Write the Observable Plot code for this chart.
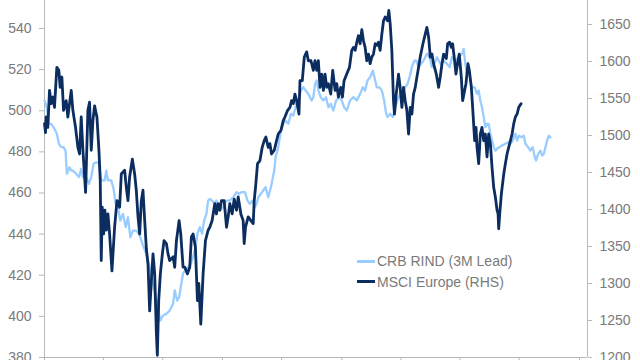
<!DOCTYPE html>
<html>
<head>
<meta charset="utf-8">
<script src="https://cdn.jsdelivr.net/npm/d3@7"></script>
<script src="https://cdn.jsdelivr.net/npm/@observablehq/plot@0.6"></script>
<style>
  html, body { margin: 0; padding: 0; background: #fff; overflow: hidden; }
  #wrap { position: relative; width: 640px; height: 360px; font-family: "Liberation Sans", Arial, sans-serif; }
  #legend { position: absolute; left: 357px; top: 251px; font-size: 14px; color: #7a7a7a; }
  #legend .row { display: flex; align-items: center; height: 20.5px; white-space: nowrap; }
  #legend .sw { width: 18px; height: 0; margin-right: 2px; }
</style>
</head>
<body>
<div id="wrap"></div>
<script>
// ---- data (x in tick units, values as read) ----
const seriesNames = ["CRB RIND (3M Lead)", "MSCI Europe (RHS)"];
const leftTicks = [380, 400, 420, 440, 460, 480, 500, 520, 540];
const rightTicks = [1200, 1250, 1300, 1350, 1400, 1450, 1500, 1550, 1600, 1650];
const xTicks = [0, 1, 2, 3.01, 4.01, 5.03, 6.03, 7.03, 8.03, 9.05];
const leftDomain = [380, 553.6];
const rightDomain = [1200, 1682.4];
const xDomain = [0, 9.186];

const crbSeries = [
  [0.000,505.0],[0.039,501.7],[0.073,493.6],[0.113,493.6],[0.169,491.2],[0.209,488.8],[0.243,483.9],[0.282,482.3],
  [0.322,482.3],[0.356,480.6],[0.378,469.3],[0.424,472.5],[0.452,470.9],[0.480,470.9],[0.537,469.3],[0.582,467.7],
  [0.621,471.7],[0.650,467.7],[0.706,467.7],[0.751,464.4],[0.791,467.7],[0.830,474.2],[0.876,475.0],[0.921,474.2],
  [0.960,466.1],[1.017,466.1],[1.045,470.9],[1.073,466.1],[1.130,466.1],[1.169,462.0],[1.203,454.7],[1.243,453.1],
  [1.282,446.6],[1.328,449.8],[1.373,443.4],[1.412,448.2],[1.452,438.5],[1.497,441.7],[1.553,441.7],[1.599,440.1],
  [1.638,436.9],[1.678,433.6],[1.723,430.4],[1.779,423.9],[1.836,415.8],[1.893,407.7],[1.938,401.2],[1.960,398.0],
  [2.006,400.4],[2.062,401.2],[2.118,402.8],[2.175,406.1],[2.203,412.6],[2.243,407.7],[2.277,409.3],
  [2.305,414.2],[2.344,420.7],[2.373,422.3],[2.429,423.9],[2.474,425.5],[2.514,428.8],[2.553,433.6],[2.587,440.1],
  [2.627,443.4],[2.666,440.1],[2.700,446.6],[2.740,449.8],[2.768,456.3],[2.796,457.1],[2.836,456.3],[2.881,454.7],
  [2.909,456.3],[2.966,451.5],[3.022,453.1],[3.079,456.3],[3.135,456.3],[3.192,457.9],[3.248,460.4],[3.288,459.6],
  [3.333,460.4],[3.390,460.4],[3.435,456.3],[3.474,454.7],[3.514,456.3],[3.559,453.1],[3.587,454.7],[3.616,457.9],
  [3.661,459.6],[3.700,461.2],[3.740,462.8],[3.785,457.9],[3.830,462.8],[3.853,466.1],[3.887,470.9],[3.909,477.4],
  [3.954,482.3],[4.000,490.4],[4.039,493.6],[4.079,495.2],[4.124,493.6],[4.169,498.5],[4.209,497.7],[4.248,501.7],
  [4.282,505.0],[4.305,506.6],[4.339,509.8],[4.378,511.4],[4.418,509.8],[4.463,508.2],[4.520,505.0],[4.548,506.6],
  [4.577,513.1],[4.605,514.7],[4.633,509.8],[4.673,506.6],[4.718,505.0],[4.763,506.6],[4.803,501.7],[4.842,503.3],
  [4.887,500.1],[4.933,505.0],[4.989,506.6],[5.029,505.0],[5.068,501.7],[5.113,500.1],[5.170,505.0],[5.226,506.6],
  [5.283,505.0],[5.339,508.2],[5.385,511.4],[5.424,509.8],[5.464,514.7],[5.509,516.3],[5.554,519.5],[5.594,514.7],
  [5.622,511.4],[5.667,511.4],[5.707,509.8],[5.746,505.0],[5.780,498.5],[5.803,496.9],[5.848,498.5],[5.893,496.9],
  [5.933,501.7],[5.972,505.0],[6.017,508.2],[6.063,509.8],[6.102,511.4],[6.142,513.1],[6.176,516.3],[6.215,521.2],
  [6.255,524.4],[6.289,524.4],[6.328,521.2],[6.368,522.8],[6.413,524.4],[6.469,527.7],[6.514,526.0],[6.554,521.2],
  [6.594,522.8],[6.639,526.0],[6.695,522.8],[6.752,524.4],[6.808,522.8],[6.854,521.2],
  [6.893,526.0],[6.949,524.4],[7.006,526.0],[7.062,527.7],[7.091,530.1],[7.119,522.8],[7.147,517.9],[7.175,521.2],
  [7.204,514.7],[7.232,511.4],[7.277,511.4],[7.317,508.2],[7.345,509.8],[7.373,505.0],[7.401,501.7],[7.430,496.9],
  [7.458,492.0],[7.486,493.6],[7.514,493.6],[7.543,488.8],[7.571,485.5],[7.599,482.3],[7.627,480.6],[7.656,481.5],
  [7.695,482.3],[7.740,483.1],[7.797,483.9],[7.842,484.7],[7.882,483.9],[7.921,485.5],[7.966,488.8],[7.995,485.5],
  [8.023,487.9],[8.068,487.1],[8.108,487.9],[8.136,483.9],[8.181,482.3],[8.220,480.6],[8.260,482.3],[8.294,477.4],
  [8.317,475.8],[8.351,479.0],[8.390,480.6],[8.418,478.2],[8.446,479.0],[8.475,482.3],[8.503,485.5],[8.531,487.9],
  [8.559,487.1]
];

const msciSeries = [
  [0.000,1516],[0.017,1504],[0.028,1525],[0.056,1511],[0.085,1561],[0.113,1543],[0.141,1552],[0.169,1538],
  [0.209,1592],[0.243,1588],[0.265,1565],[0.294,1579],[0.322,1534],[0.367,1547],[0.395,1525],[0.452,1561],
  [0.480,1534],[0.525,1511],[0.565,1484],[0.593,1475],[0.621,1525],[0.650,1480],[0.695,1423],[0.734,1534],
  [0.762,1545],[0.791,1480],[0.819,1520],[0.847,1540],[0.887,1525],[0.921,1480],[0.943,1439],[0.960,1331],
  [0.977,1403],[1.000,1367],[1.022,1399],[1.045,1372],[1.073,1394],[1.101,1367],[1.141,1317],[1.186,1376],
  [1.226,1412],[1.271,1403],[1.299,1448],[1.356,1453],[1.384,1430],[1.412,1412],[1.440,1444],[1.486,1468],
  [1.525,1448],[1.553,1426],[1.582,1390],[1.610,1367],[1.638,1412],[1.666,1426],[1.695,1385],[1.723,1347],
  [1.751,1326],[1.779,1263],[1.808,1304],[1.836,1340],[1.864,1313],[1.893,1232],[1.909,1203],[1.932,1277],
  [1.960,1313],[1.994,1340],[2.022,1358],[2.062,1354],[2.090,1340],[2.118,1331],[2.175,1336],[2.203,1322],
  [2.232,1358],[2.277,1385],
  [2.305,1367],[2.344,1322],[2.373,1322],[2.418,1313],[2.457,1322],[2.485,1363],[2.514,1367],[2.553,1349],
  [2.587,1277],[2.610,1300],[2.644,1245],[2.683,1313],[2.723,1358],[2.768,1372],[2.796,1376],[2.836,1385],
  [2.881,1408],[2.909,1394],[2.937,1408],[2.966,1399],[2.994,1412],[3.039,1412],[3.079,1376],[3.107,1390],
  [3.135,1408],[3.175,1394],[3.209,1414],[3.248,1399],[3.277,1417],[3.322,1394],[3.361,1385],[3.378,1354],
  [3.401,1376],[3.446,1390],[3.491,1385],[3.531,1381],[3.548,1412],[3.570,1430],[3.604,1462],[3.644,1466],
  [3.683,1484],[3.717,1493],[3.745,1498],[3.785,1484],[3.813,1489],[3.841,1475],[3.887,1480],[3.926,1493],
  [3.954,1502],[4.000,1507],[4.039,1520],[4.067,1525],[4.113,1534],[4.152,1538],[4.180,1547],[4.209,1543],
  [4.237,1556],[4.265,1547],[4.305,1529],[4.322,1574],[4.361,1574],[4.395,1606],[4.435,1613],[4.463,1601],
  [4.508,1601],[4.548,1588],[4.576,1601],
  [4.605,1588],[4.633,1601],[4.661,1565],[4.690,1583],[4.718,1561],[4.746,1583],[4.774,1565],[4.803,1570],
  [4.842,1556],[4.876,1588],[4.916,1561],[4.944,1570],[4.972,1552],[5.012,1565],[5.040,1552],[5.068,1574],
  [5.113,1583],[5.159,1592],[5.198,1615],[5.226,1619],[5.255,1615],[5.283,1626],[5.311,1635],[5.339,1624],
  [5.368,1643],[5.396,1628],[5.424,1619],[5.452,1601],[5.481,1610],[5.509,1597],[5.537,1606],[5.565,1610],
  [5.594,1624],[5.622,1622],[5.650,1626],[5.678,1615],[5.707,1637],[5.735,1655],[5.763,1660],[5.803,1655],
  [5.825,1669],[5.848,1651],[5.876,1615],[5.904,1547],[5.921,1529],[5.950,1556],[5.989,1583],[6.017,1565],
  [6.046,1538],[6.074,1565],[6.102,1547],[6.130,1534],[6.159,1502],[6.187,1538],[6.215,1529],[6.243,1556],
  [6.272,1565],[6.300,1579],[6.328,1592],[6.356,1606],[6.402,1624],[6.441,1637],[6.469,1646],[6.498,1633],
  [6.526,1606],[6.554,1610],[6.582,1597],[6.628,1583],[6.667,1565],[6.695,1579],[6.724,1597],[6.752,1610],
  [6.797,1604],[6.820,1624],[6.854,1626],
  [6.882,1619],[6.904,1624],[6.938,1601],[6.961,1583],[6.995,1601],[7.017,1610],[7.051,1579],[7.074,1547],
  [7.108,1561],[7.130,1570],[7.164,1597],[7.187,1588],[7.221,1565],[7.243,1538],[7.277,1493],[7.300,1511],
  [7.317,1484],[7.345,1462],[7.373,1502],[7.401,1511],[7.430,1493],[7.458,1502],[7.486,1471],[7.514,1502],
  [7.543,1489],[7.571,1457],[7.599,1430],[7.627,1417],[7.656,1399],[7.673,1394],[7.684,1374],[7.701,1394],
  [7.729,1421],[7.769,1448],[7.797,1462],[7.825,1475],[7.853,1484],[7.882,1493],[7.910,1502],[7.938,1516],
  [7.966,1525],[7.995,1529],[8.023,1538],[8.062,1543]
];

const colors = ["#99ccff", "#0b2d5f"];
const textGray = "#7a7a7a";
const axisGray = "#b8b8b8";

// right-axis values mapped into the left scale
const toLeft = d3.scaleLinear().domain(rightDomain).range(leftDomain);
const crb = crbSeries.map(([x, v]) => ({x, y: v}));
const msci = msciSeries.map(([x, v]) => ({x, y: toLeft(v)}));

const chart = Plot.plot({
  width: 640,
  height: 360,
  marginTop: 0,
  marginLeft: 44,
  marginRight: 53,
  marginBottom: 3,
  style: {fontFamily: '"Liberation Sans", Arial, sans-serif', fontSize: "14px", color: textGray, background: "#fff", overflow: "visible"},
  x: {domain: xDomain},
  y: {domain: leftDomain},
  marks: [
    Plot.ruleX([xDomain[0]], {stroke: axisGray, strokeWidth: 1}),
    Plot.ruleX([xDomain[1]], {stroke: axisGray, strokeWidth: 1}),
    Plot.ruleY([leftDomain[0]], {stroke: axisGray, strokeWidth: 1}),
    Plot.axisX(xTicks, {tickSize: 3, tickFormat: () => "", stroke: axisGray, label: null}),
    Plot.axisY(leftTicks, {anchor: "left", tickSize: 5, tickPadding: 8, stroke: axisGray, fill: textGray, fontSize: 14, label: null}),
    Plot.axisY(rightTicks.map(toLeft), {anchor: "right", tickSize: 4, tickPadding: 8, stroke: axisGray, fill: textGray, fontSize: 14, label: null,
      tickFormat: (d) => String(Math.round(toLeft.invert(d)))}),
    Plot.line(crb, {x: "x", y: "y", stroke: colors[0], strokeWidth: 2.3}),
    Plot.line(msci, {x: "x", y: "y", stroke: colors[1], strokeWidth: 2.8})
  ]
});

const wrap = document.getElementById("wrap");
wrap.appendChild(chart);
const legend = document.createElement("div");
legend.id = "legend";
seriesNames.forEach((name, i) => {
  const row = document.createElement("div");
  row.className = "row";
  const sw = document.createElement("span");
  sw.className = "sw";
  sw.style.borderTop = `3px solid ${colors[i]}`;
  const t = document.createElement("span");
  t.textContent = name;
  row.appendChild(sw);
  row.appendChild(t);
  legend.appendChild(row);
});
wrap.appendChild(legend);
</script>
</body>
</html>
